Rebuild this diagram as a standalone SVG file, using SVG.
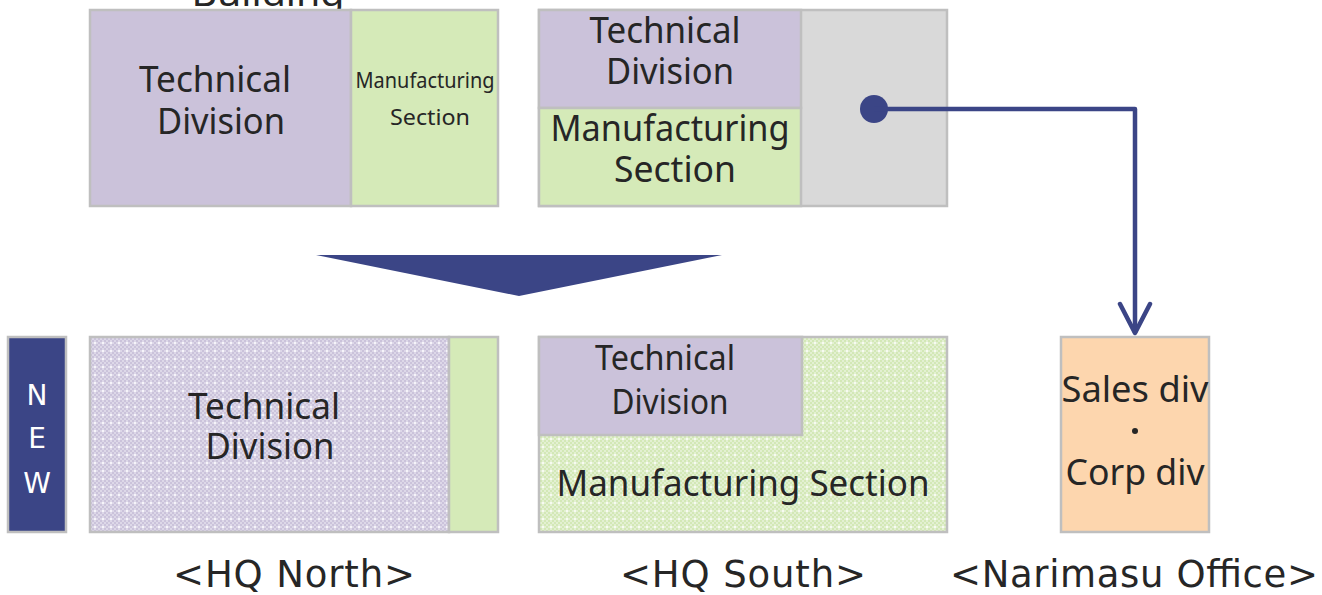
<svg xmlns="http://www.w3.org/2000/svg" width="1322" height="595" viewBox="0 0 1322 595">
  <style>
    .box { stroke: #BFBFBF; stroke-width: 2.5; }
    .tech { fill: #CBC2DA; }
    .mfg { fill: #D5EAB8; }
    .idle { fill: #D9D9D9; }
    .office { fill: #FDD6AE; }
    .new { fill: #3B4586; }
    .lbl { font-family: "Noto Sans", "DejaVu Sans", sans-serif; fill: #262626; text-anchor: middle; }
    .big { font-size: 37px; }
    .small { font-size: 21px; }
    .caption { font-family: "DejaVu Sans", sans-serif; font-size: 37px; }
    .newtxt { font-family: "DejaVu Sans", sans-serif; font-size: 28px; fill: #FFFFFF; text-anchor: middle; }
    .link { fill: none; stroke: #3B4586; stroke-width: 4.5; stroke-linejoin: round; }
  </style>
  <defs>
    <!-- dotted textures for the planned layout -->
    <pattern id="techDots" width="8" height="8" patternUnits="userSpaceOnUse">
      <rect width="8" height="8" fill="#DDD8E8"/>
      <rect x="0" y="0" width="2" height="2" fill="#CBC3DB"/>
      <rect x="2" y="2" width="2" height="2" fill="#CBC3DB"/>
      <rect x="4" y="0" width="2" height="2" fill="#CBC3DB"/>
      <rect x="6" y="2" width="2" height="2" fill="#CBC3DB"/>
      <rect x="0" y="4" width="2" height="2" fill="#CBC3DB"/>
      <rect x="2" y="6" width="2" height="2" fill="#CBC3DB"/>
      <rect x="4" y="4" width="2" height="2" fill="#CBC3DB"/>
      <rect x="6" y="6" width="2" height="2" fill="#F6F4FA"/>
    </pattern>
    <pattern id="mfgDots" width="8" height="8" patternUnits="userSpaceOnUse">
      <rect width="8" height="8" fill="#E3F0D2"/>
      <rect x="0" y="0" width="2" height="2" fill="#D3E8B6"/>
      <rect x="2" y="2" width="2" height="2" fill="#D3E8B6"/>
      <rect x="4" y="0" width="2" height="2" fill="#D3E8B6"/>
      <rect x="6" y="2" width="2" height="2" fill="#D3E8B6"/>
      <rect x="0" y="4" width="2" height="2" fill="#D3E8B6"/>
      <rect x="2" y="6" width="2" height="2" fill="#D3E8B6"/>
      <rect x="4" y="4" width="2" height="2" fill="#D3E8B6"/>
      <rect x="6" y="6" width="2" height="2" fill="#F7FBF1"/>
    </pattern>
    <marker id="chevron" viewBox="0 0 36 36" refX="18" refY="33" markerWidth="36" markerHeight="36" markerUnits="userSpaceOnUse" orient="0">
      <path d="M3,4 L18,33 L33,4" fill="none" stroke="#3B4586" stroke-width="4.5" stroke-linecap="round" stroke-linejoin="round"/>
    </marker>
  </defs>

  <rect width="1322" height="595" fill="#FFFFFF"/>

  <!-- building heading, cut off by the top edge -->
  <text class="lbl big" x="268" y="6" textLength="153" lengthAdjust="spacingAndGlyphs">Building</text>

  <!-- current: north building -->
  <g id="north-current">
    <rect class="box tech" x="90" y="10" width="261" height="196"/>
    <rect class="box mfg" x="351" y="10" width="147" height="196"/>
    <text class="lbl big" x="215" y="92" textLength="152" lengthAdjust="spacingAndGlyphs">Technical</text>
    <text class="lbl big" x="221" y="134" textLength="128" lengthAdjust="spacingAndGlyphs">Division</text>
    <text class="lbl small" x="425" y="88" textLength="139" lengthAdjust="spacingAndGlyphs">Manufacturing</text>
    <text class="lbl small" x="430" y="125" textLength="80" lengthAdjust="spacingAndGlyphs">Section</text>
  </g>

  <!-- current: south building -->
  <g id="south-current">
    <rect class="box idle" x="539" y="10" width="408" height="196"/>
    <rect class="box tech" x="539" y="10" width="262" height="98"/>
    <rect class="box mfg" x="539" y="108" width="262" height="98"/>
    <text class="lbl big" x="665" y="43" textLength="151" lengthAdjust="spacingAndGlyphs">Technical</text>
    <text class="lbl big" x="670" y="84" textLength="128" lengthAdjust="spacingAndGlyphs">Division</text>
    <text class="lbl big" x="670" y="141" textLength="239" lengthAdjust="spacingAndGlyphs">Manufacturing</text>
    <text class="lbl big" x="675" y="182" textLength="122" lengthAdjust="spacingAndGlyphs">Section</text>
  </g>

  <!-- transition arrow -->
  <g id="transition">
    <polygon points="316,255 722,255 519,296" fill="#3B4586"/>
  </g>

  <!-- new label -->
  <g id="new-tag">
    <rect class="box new" x="8" y="337" width="58" height="195"/>
    <text class="newtxt" x="37" y="405">N</text>
    <text class="newtxt" x="37" y="448">E</text>
    <text class="newtxt" x="37" y="493">W</text>
  </g>

  <!-- planned: HQ North -->
  <g id="hq-north">
    <rect class="box" x="90" y="337" width="359" height="195" fill="url(#techDots)"/>
    <rect class="box mfg" x="449" y="337" width="49" height="195"/>
    <text class="lbl big" x="264" y="419" textLength="152" lengthAdjust="spacingAndGlyphs">Technical</text>
    <text class="lbl big" x="270" y="459" textLength="129" lengthAdjust="spacingAndGlyphs">Division</text>
    <text class="lbl caption" x="294" y="587" textLength="242">&lt;HQ North&gt;</text>
  </g>

  <!-- planned: HQ South -->
  <g id="hq-south">
    <rect class="box" x="539" y="337" width="408" height="195" fill="url(#mfgDots)"/>
    <rect class="box tech" x="539" y="337" width="263" height="98"/>
    <text class="lbl" x="665" y="370" style="font-size:34px" textLength="140" lengthAdjust="spacingAndGlyphs">Technical</text>
    <text class="lbl" x="670" y="414" style="font-size:34px" textLength="117" lengthAdjust="spacingAndGlyphs">Division</text>
    <text class="lbl big" x="743" y="496" textLength="373" lengthAdjust="spacingAndGlyphs">Manufacturing Section</text>
    <text class="lbl caption" x="743" y="587" textLength="246">&lt;HQ South&gt;</text>
  </g>

  <!-- planned: Narimasu office -->
  <g id="narimasu">
    <rect class="box office" x="1061" y="337" width="148" height="195"/>
    <text class="lbl big" x="1135" y="402" textLength="147" lengthAdjust="spacingAndGlyphs">Sales div</text>
    <circle cx="1135" cy="431" r="3" fill="#262626"/>
    <text class="lbl big" x="1135" y="485" textLength="139" lengthAdjust="spacingAndGlyphs">Corp div</text>
    <text class="lbl caption" x="1134" y="587" textLength="368">&lt;Narimasu Office&gt;</text>
  </g>

  <!-- relocation connector -->
  <g id="connectors">
    <circle cx="874" cy="109" r="14" fill="#3B4586"/>
    <path class="link" d="M874,109 H1135 V333" marker-end="url(#chevron)"/>
  </g>
</svg>
